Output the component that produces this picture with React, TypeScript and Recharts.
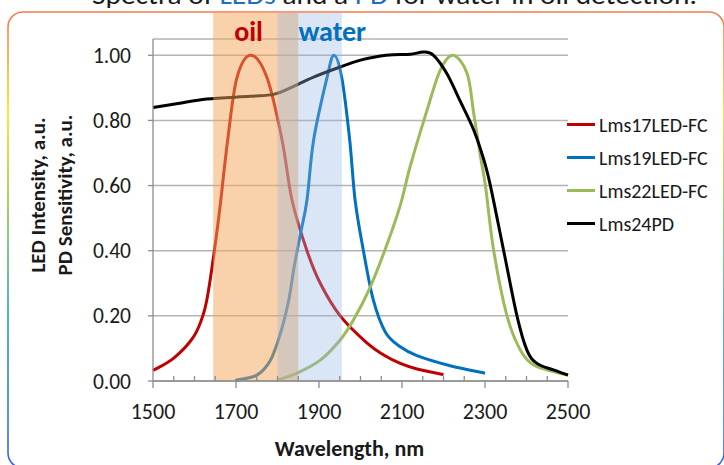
import React from 'react';
import { ComposedChart, Line, XAxis, YAxis, CartesianGrid, ReferenceArea, Legend } from 'recharts';

const FONT = 'Carlito, Calibri, Lato, "Open Sans", sans-serif';

// ---------- data ----------
const xTicks = [1500, 1550, 1600, 1650, 1700, 1750, 1800, 1850, 1900, 1950, 2000, 2050, 2100, 2150, 2200, 2250, 2300, 2350, 2400, 2450, 2500];
const majorXTicks = [1500, 1700, 1900, 2100, 2300, 2500];
const yTicks = [0, 0.2, 0.4, 0.6, 0.8, 1.0];

const lms17 = [
  { x: 1500, y: 0.032 }, { x: 1550, y: 0.07 }, { x: 1598, y: 0.136 }, { x: 1622, y: 0.208 },
  { x: 1634, y: 0.28 }, { x: 1650, y: 0.42 }, { x: 1662, y: 0.54 }, { x: 1680, y: 0.74 },
  { x: 1702, y: 0.93 }, { x: 1736, y: 1.0 }, { x: 1775, y: 0.93 }, { x: 1811, y: 0.74 },
  { x: 1835, y: 0.555 }, { x: 1871, y: 0.4 }, { x: 1903, y: 0.3 }, { x: 1951, y: 0.2 },
  { x: 2016, y: 0.116 }, { x: 2056, y: 0.08 }, { x: 2096, y: 0.054 }, { x: 2136, y: 0.037 },
  { x: 2200, y: 0.02 },
];
const lms19 = [
  { x: 1698, y: 0.002 }, { x: 1750, y: 0.018 }, { x: 1783, y: 0.064 }, { x: 1807, y: 0.146 },
  { x: 1827, y: 0.248 }, { x: 1840, y: 0.35 }, { x: 1855, y: 0.45 }, { x: 1871, y: 0.555 },
  { x: 1887, y: 0.74 }, { x: 1919, y: 0.93 }, { x: 1936, y: 1.0 }, { x: 1955, y: 0.93 },
  { x: 1974, y: 0.74 }, { x: 1987, y: 0.555 }, { x: 2007, y: 0.4 }, { x: 2031, y: 0.248 },
  { x: 2060, y: 0.15 }, { x: 2096, y: 0.105 }, { x: 2136, y: 0.078 }, { x: 2216, y: 0.047 },
  { x: 2300, y: 0.024 },
];
const lms22 = [
  { x: 1800, y: 0.003 }, { x: 1847, y: 0.024 }, { x: 1903, y: 0.064 }, { x: 1951, y: 0.126 },
  { x: 1983, y: 0.187 }, { x: 2024, y: 0.29 }, { x: 2064, y: 0.42 }, { x: 2096, y: 0.54 },
  { x: 2120, y: 0.66 }, { x: 2160, y: 0.83 }, { x: 2192, y: 0.954 }, { x: 2223, y: 1.0 },
  { x: 2257, y: 0.944 }, { x: 2273, y: 0.82 }, { x: 2289, y: 0.69 }, { x: 2301, y: 0.6 },
  { x: 2321, y: 0.4 }, { x: 2353, y: 0.2 }, { x: 2385, y: 0.095 }, { x: 2417, y: 0.049 },
  { x: 2465, y: 0.029 }, { x: 2500, y: 0.018 },
];
const lms24 = [
  { x: 1500, y: 0.84 }, { x: 1560, y: 0.852 }, { x: 1630, y: 0.866 }, { x: 1734, y: 0.874 },
  { x: 1791, y: 0.88 }, { x: 1831, y: 0.9 }, { x: 1887, y: 0.933 }, { x: 1951, y: 0.964 },
  { x: 2000, y: 0.985 }, { x: 2048, y: 0.998 }, { x: 2080, y: 1.002 }, { x: 2120, y: 1.003 },
  { x: 2152, y: 1.01 }, { x: 2176, y: 1.0 }, { x: 2208, y: 0.944 }, { x: 2240, y: 0.86 },
  { x: 2273, y: 0.77 }, { x: 2297, y: 0.68 }, { x: 2313, y: 0.6 }, { x: 2345, y: 0.4 },
  { x: 2377, y: 0.2 }, { x: 2401, y: 0.095 }, { x: 2425, y: 0.054 }, { x: 2465, y: 0.034 },
  { x: 2500, y: 0.018 },
];

const seriesNames = ['Lms17LED-FC', 'Lms19LED-FC', 'Lms22LED-FC', 'Lms24PD'];
const seriesColors = ['#c00000', '#0070c0', '#9bbb59', '#000000'];
const seriesData = [lms17, lms19, lms22, lms24];

const oilBand = [1645, 1850];
const waterBand = [1800, 1955];
const bandTop = 1.13;

const titleParts = [
  { text: 'Spectra of ', color: '#1a1a1a' },
  { text: 'LEDs', color: '#1f6fc0' },
  { text: ' and a ', color: '#1a1a1a' },
  { text: 'PD', color: '#1f6fc0' },
  { text: ' for water in oil detection.', color: '#1a1a1a' },
];

// Smooth (Catmull-Rom style) curve, like a spreadsheet's "smoothed line"
const smoothCurve = (context: any) => {
  let pts: number[][] = [];
  return {
    areaStart() {},
    areaEnd() {},
    lineStart() {
      pts = [];
    },
    point(x: number, y: number) {
      pts.push([+x, +y]);
    },
    lineEnd() {
      if (!pts.length) return;
      context.moveTo(pts[0][0], pts[0][1]);
      const t = 1 / 6;
      for (let i = 0; i < pts.length - 1; i++) {
        const p0 = pts[i - 1] || pts[i];
        const p1 = pts[i];
        const p2 = pts[i + 1];
        const p3 = pts[i + 2] || p2;
        context.bezierCurveTo(
          p1[0] + (p2[0] - p0[0]) * t,
          p1[1] + (p2[1] - p0[1]) * t,
          p2[0] - (p3[0] - p1[0]) * t,
          p2[1] - (p3[1] - p1[1]) * t,
          p2[0],
          p2[1]
        );
      }
    },
  };
};

// ---------- renderers ----------
const XTick = (props: any) => {
  const { x, y, payload } = props;
  const v = payload.value;
  const major = majorXTicks.includes(v);
  return (
    <g>
      <line x1={x} x2={x} y1={y} y2={major ? y + 7 : y - 5} stroke="#8c8c8c" strokeWidth={1.3} />
      {major && (
        <text x={x} y={y + 38} textAnchor="middle" fontSize={22} fill="#1a1a1a" fontFamily={FONT}>
          {v}
        </text>
      )}
    </g>
  );
};

const XLabel = (props: any) => {
  const vb = props.viewBox;
  return (
    <text x={vb.x + vb.width / 2 - 11} y={vb.y + 75} textAnchor="middle" fontSize={22} fontWeight="bold" fill="#1a1a1a" fontFamily={FONT}>
      Wavelength, nm
    </text>
  );
};

const YLabel = (props: any) => {
  const vb = props.viewBox;
  const cy = vb.y + vb.height / 2 - 15;
  const lines = ['LED Intensity, a.u.', 'PD Sensitivity, a.u.'];
  const xs = [vb.x + 38, vb.x + 65];
  return (
    <g>
      {lines.map((t, i) => (
        <text key={t} x={xs[i]} y={cy} transform={`rotate(-90, ${xs[i]}, ${cy})`} textAnchor="middle" dominantBaseline="central" fontSize={21} fontWeight="bold" fill="#1a1a1a" fontFamily={FONT}>
          {t}
        </text>
      ))}
    </g>
  );
};

const bandLabel = (text: string, color: string) => (props: any) => {
  const vb = props.viewBox;
  return (
    <text x={vb.x + 21} y={vb.y + 19} dominantBaseline="central" fontSize={28} fontWeight="bold" fill={color} fontFamily={FONT}>
      {text}
    </text>
  );
};

const renderLegend = (props: any) => {
  const payload = props.payload || [];
  return (
    <div style={{ fontFamily: FONT }}>
      {payload.map((p: any) => (
        <div key={p.value} style={{ display: 'flex', alignItems: 'center', height: 33 }}>
          <span style={{ display: 'inline-block', width: 28, height: 3, background: p.color, marginRight: 4 }} />
          <span style={{ fontSize: 20, color: '#1a1a1a', whiteSpace: 'nowrap' }}>{p.value}</span>
        </div>
      ))}
    </div>
  );
};

export default function App() {
  return (
    <div style={{ position: 'absolute', left: 0, top: 0, width: 724, height: 465, overflow: 'hidden', background: '#fff' }}>
      <svg width={724} height={465} style={{ position: 'absolute', left: 0, top: 0 }}>
        <defs>
          <linearGradient id="frameGrad" x1="0" y1="0" x2="0" y2="1">
            <stop offset="0%" stopColor="#f47a50" />
            <stop offset="10%" stopColor="#f8a030" />
            <stop offset="22%" stopColor="#f5e600" />
            <stop offset="45%" stopColor="#7cc24a" />
            <stop offset="68%" stopColor="#20a4b0" />
            <stop offset="100%" stopColor="#3a5cff" />
          </linearGradient>
        </defs>
        <rect x={8} y={12} width={716} height={456} rx={15} ry={15} fill="none" stroke="url(#frameGrad)" strokeWidth={1.6} />
        <text x={92} y={4} fontSize={27} fontFamily={FONT} textLength={605} lengthAdjust="spacingAndGlyphs">
          {titleParts.map((p, i) => (
            <tspan key={i} fill={p.color}>{p.text}</tspan>
          ))}
        </text>
      </svg>
      <div style={{ position: 'absolute', left: 0, top: 0 }}>
        <ComposedChart width={724} height={465} margin={{ top: 39, right: 156, left: 0, bottom: 0 }}>
          <CartesianGrid vertical={false} stroke="#b4b4b4" strokeWidth={1.5} />
          <XAxis
            type="number"
            dataKey="x"
            domain={[1500, 2500]}
            ticks={xTicks}
            interval={0}
            height={84}
            tickSize={0}
            tickMargin={0}
            tickLine={false}
            tick={<XTick />}
            axisLine={{ stroke: '#8c8c8c', strokeWidth: 1.3 }}
            allowDuplicatedCategory={false}
            label={<XLabel />}
          />
          <YAxis
            type="number"
            domain={[0, 1.05]}
            ticks={yTicks}
            interval={0}
            width={153}
            tickSize={5}
            tickMargin={17}
            tickFormatter={(v: number) => v.toFixed(2)}
            tick={{ fontSize: 21.5, fill: '#1a1a1a', fontFamily: FONT }}
            tickLine={{ stroke: '#8c8c8c', strokeWidth: 1.3 }}
            axisLine={{ stroke: '#8c8c8c', strokeWidth: 1.3 }}
            label={<YLabel />}
          />
          {seriesData.map((d, i) => (
            <Line
              key={seriesNames[i]}
              data={d}
              dataKey="y"
              name={seriesNames[i]}
              type={smoothCurve as any}
              stroke={seriesColors[i]}
              strokeWidth={3}
              dot={false}
              activeDot={false}
              isAnimationActive={false}
            />
          ))}
          <ReferenceArea
            x1={oilBand[0]}
            x2={oilBand[1]}
            y1={0}
            y2={bandTop}
            ifOverflow="visible"
            fill="#f3a355"
            fillOpacity={0.5}
            stroke="none"
            zIndex={450}
            label={{ content: bandLabel('oil', '#c00000') }}
          />
          <ReferenceArea
            x1={waterBand[0]}
            x2={waterBand[1]}
            y1={0}
            y2={bandTop}
            ifOverflow="visible"
            fill="#95b5e2"
            fillOpacity={0.35}
            stroke="none"
            zIndex={451}
            label={{ content: bandLabel('water', '#0070c0') }}
          />
          <Legend
            layout="vertical"
            align="center"
            verticalAlign="middle"
            content={renderLegend}
            wrapperStyle={{ left: 567, top: 108, width: 157 }}
          />
        </ComposedChart>
      </div>
    </div>
  );
}
